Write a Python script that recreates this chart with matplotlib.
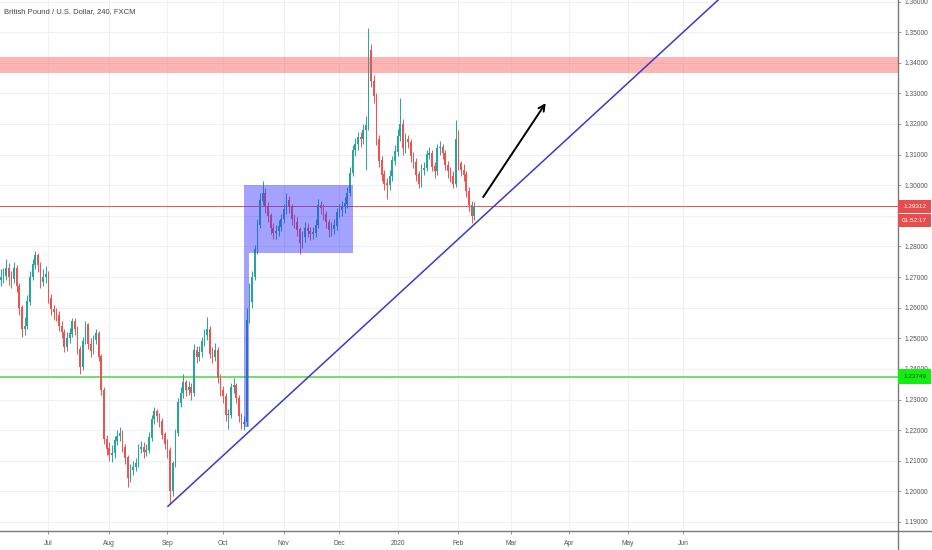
import numpy as np
import pandas as pd
import matplotlib
matplotlib.use("Agg")
import matplotlib.pyplot as plt
from matplotlib.patches import Polygon, Rectangle
from matplotlib.transforms import blended_transform_factory

plt.rcParams['font.family'] = ['Liberation Sans', 'DejaVu Sans']

# GBPUSD, one candle per trading day starting 2019-06-05
start_date = '2019-06-05'
last_month = '2020-06'
first_open = 1.2690
closes = [
    1.2700, 1.2705, 1.2730, 1.2700, 1.2695, 1.2730, 1.2670, 1.2600, 1.2530, 1.2540,
    1.2620, 1.2700, 1.2740, 1.2770, 1.2740, 1.2685, 1.2700, 1.2710, 1.2630, 1.2595,
    1.2585, 1.2575, 1.2540, 1.2520, 1.2470, 1.2500, 1.2515, 1.2555, 1.2530, 1.2465,
    1.2405, 1.2490, 1.2545, 1.2480, 1.2460, 1.2495, 1.2515, 1.2440, 1.2330, 1.2170,
    1.2140, 1.2120, 1.2125, 1.2165, 1.2180, 1.2190, 1.2145, 1.2110, 1.2045, 1.2070,
    1.2080, 1.2090, 1.2140, 1.2145, 1.2130, 1.2135, 1.2175, 1.2235, 1.2260, 1.2245,
    1.2230, 1.2185, 1.2155, 1.2135, 1.2000, 1.2090, 1.2190, 1.2290, 1.2320, 1.2355,
    1.2330, 1.2340, 1.2320, 1.2460, 1.2440, 1.2455, 1.2490, 1.2510, 1.2530, 1.2450,
    1.2440, 1.2460, 1.2370, 1.2330, 1.2310, 1.2250, 1.2250, 1.2340, 1.2345, 1.2305,
    1.2245, 1.2220, 1.2225, 1.2560, 1.2620, 1.2700, 1.2790, 1.2870, 1.2950, 1.2975,
    1.2930, 1.2900, 1.2860, 1.2845, 1.2850, 1.2865, 1.2890, 1.2920, 1.2950, 1.2930,
    1.2890, 1.2880, 1.2855, 1.2810, 1.2830, 1.2860, 1.2850, 1.2840, 1.2845, 1.2870,
    1.2935, 1.2925, 1.2905, 1.2880, 1.2855, 1.2858, 1.2868, 1.2910, 1.2918, 1.2928,
    1.2940, 1.2975, 1.3040, 1.3115, 1.3135, 1.3155, 1.3150, 1.3180, 1.3195, 1.3440,
    1.3340, 1.3290, 1.3150, 1.3080, 1.3035, 1.3005, 1.3000, 1.3030, 1.3080, 1.3110,
    1.3160, 1.3200, 1.3120, 1.3150, 1.3140, 1.3095, 1.3075, 1.3035, 1.3005, 1.3050,
    1.3055, 1.3100, 1.3105, 1.3060, 1.3045, 1.3120, 1.3125, 1.3105, 1.3065, 1.3045,
    1.3030, 1.3005, 1.3150, 1.3070, 1.3050, 1.3035, 1.2980, 1.2935, 1.2900, 1.2931,
]
highs = [
    1.2725, 1.2730, 1.2760, 1.2745, 1.2720, 1.2750, 1.2740, 1.2680, 1.2610, 1.2570,
    1.2640, 1.2720, 1.2760, 1.2785, 1.2780, 1.2750, 1.2725, 1.2735, 1.2720, 1.2645,
    1.2610, 1.2600, 1.2590, 1.2555, 1.2530, 1.2520, 1.2535, 1.2565, 1.2565, 1.2540,
    1.2475, 1.2505, 1.2555, 1.2550, 1.2500, 1.2510, 1.2530, 1.2525, 1.2450, 1.2340,
    1.2185, 1.2160, 1.2150, 1.2180, 1.2200, 1.2210, 1.2200, 1.2155, 1.2120, 1.2090,
    1.2100, 1.2110, 1.2155, 1.2165, 1.2160, 1.2155, 1.2195, 1.2250, 1.2275, 1.2270,
    1.2255, 1.2240, 1.2195, 1.2170, 1.2145, 1.2100, 1.2205, 1.2305, 1.2340, 1.2385,
    1.2365, 1.2360, 1.2355, 1.2480, 1.2475, 1.2475, 1.2505, 1.2530, 1.2570, 1.2540,
    1.2470, 1.2485, 1.2470, 1.2385, 1.2345, 1.2320, 1.2270, 1.2355, 1.2370, 1.2355,
    1.2315, 1.2255, 1.2245, 1.2600, 1.2680, 1.2720, 1.2805, 1.2890, 1.2975, 1.3013,
    1.2990, 1.2945, 1.2910, 1.2875, 1.2870, 1.2885, 1.2905, 1.2940, 1.2975, 1.2965,
    1.2940, 1.2905, 1.2895, 1.2865, 1.2850, 1.2880, 1.2875, 1.2865, 1.2865, 1.2890,
    1.2955, 1.2950, 1.2940, 1.2915, 1.2890, 1.2880, 1.2890, 1.2925, 1.2940, 1.2950,
    1.2960, 1.2995, 1.3060, 1.3130, 1.3155, 1.3175, 1.3175, 1.3200, 1.3225, 1.3515,
    1.3460, 1.3360, 1.3300, 1.3165, 1.3095, 1.3050, 1.3025, 1.3050, 1.3095, 1.3130,
    1.3185, 1.3285, 1.3215, 1.3170, 1.3165, 1.3150, 1.3110, 1.3090, 1.3045, 1.3070,
    1.3075, 1.3115, 1.3125, 1.3115, 1.3075, 1.3135, 1.3145, 1.3135, 1.3115, 1.3080,
    1.3060, 1.3045, 1.3213, 1.3180, 1.3080, 1.3070, 1.3045, 1.2995, 1.2950, 1.2945,
]
lows = [
    1.2670, 1.2680, 1.2690, 1.2675, 1.2665, 1.2680, 1.2650, 1.2575, 1.2505, 1.2510,
    1.2530, 1.2610, 1.2690, 1.2725, 1.2715, 1.2665, 1.2670, 1.2680, 1.2615, 1.2575,
    1.2560, 1.2555, 1.2525, 1.2500, 1.2455, 1.2460, 1.2485, 1.2505, 1.2510, 1.2450,
    1.2385, 1.2395, 1.2480, 1.2465, 1.2440, 1.2450, 1.2480, 1.2425, 1.2315, 1.2155,
    1.2120, 1.2100, 1.2095, 1.2110, 1.2150, 1.2165, 1.2130, 1.2090, 1.2015, 1.2030,
    1.2055, 1.2065, 1.2080, 1.2125, 1.2110, 1.2115, 1.2125, 1.2165, 1.2220, 1.2225,
    1.2210, 1.2170, 1.2140, 1.2110, 1.1960, 1.1985, 1.2080, 1.2180, 1.2275, 1.2305,
    1.2310, 1.2315, 1.2300, 1.2310, 1.2420, 1.2425, 1.2440, 1.2475, 1.2495, 1.2435,
    1.2420, 1.2425, 1.2355, 1.2310, 1.2290, 1.2230, 1.2205, 1.2240, 1.2320, 1.2290,
    1.2225, 1.2205, 1.2200, 1.2215, 1.2550, 1.2600, 1.2690, 1.2775, 1.2860, 1.2935,
    1.2910, 1.2880, 1.2840, 1.2825, 1.2825, 1.2835, 1.2850, 1.2875, 1.2905, 1.2910,
    1.2870, 1.2860, 1.2835, 1.2775, 1.2795, 1.2815, 1.2830, 1.2820, 1.2825, 1.2830,
    1.2860, 1.2905, 1.2885, 1.2860, 1.2830, 1.2835, 1.2840, 1.2855, 1.2895, 1.2900,
    1.2910, 1.2925, 1.2965, 1.3030, 1.3095, 1.3115, 1.3125, 1.3135, 1.3050, 1.3180,
    1.3320, 1.3270, 1.3130, 1.3060, 1.3015, 1.2985, 1.2955, 1.2985, 1.3015, 1.3065,
    1.3095, 1.3145, 1.3100, 1.3105, 1.3120, 1.3075, 1.3055, 1.3015, 1.2990, 1.2995,
    1.3035, 1.3045, 1.3085, 1.3045, 1.3025, 1.3035, 1.3100, 1.3085, 1.3050, 1.3025,
    1.3010, 1.2990, 1.2995, 1.3050, 1.3030, 1.3015, 1.2960, 1.2915, 1.2875, 1.2885,
]

# drawings on the chart (trading-day index, price)
resistance_zone = (1.33655, 1.34197)
last_price = 1.29312
countdown = '01:52:17'
support_level = 1.23749
trend_start = (63.2, 1.19514)
trend_end = (271.2, 1.36050)
arrow_start = (181.8, 1.29537)
arrow_end = (206.6, 1.32759)
range_box = [(92.0, 1.30004), (133.2, 1.30004), (133.2, 1.27782),
             (93.9, 1.27782), (93.9, 1.22096), (92.0, 1.22096)]

closes = np.array(closes)
opens = np.concatenate([[first_open], closes[:-1]])
highs = np.maximum(np.array(highs), np.maximum(opens, closes))
lows = np.minimum(np.array(lows), np.minimum(opens, closes))
idx = np.arange(len(closes))

UP = '#26a69a'
DOWN = '#ef5350'

W, H = 932, 550
fig = plt.figure(figsize=(W / 100, H / 100), dpi=100)
ax = fig.add_axes([0, 19 / H, 898 / W, 531 / H])
px_per_day = 2.645
ax.set_xlim(-0.3, 898 / px_per_day - 0.3)
ax.set_ylim(1.18706, 1.3605)

# candles
up = closes >= opens
colors = np.where(up, UP, DOWN)
ax.vlines(idx, lows, highs, colors=colors, linewidth=0.7, zorder=3)
ax.bar(idx, np.abs(closes - opens) + 0.00012, bottom=np.minimum(opens, closes),
       width=0.62, color=colors, linewidth=0, zorder=3)

# resistance zone
ax.axhspan(*resistance_zone, color='#ff6a6a', alpha=0.5, linewidth=0, zorder=2)

# consolidation box
ax.add_patch(Polygon(range_box, closed=True, facecolor='#3333ff', alpha=0.45,
                     edgecolor='none', zorder=4))

# levels
ax.axhline(last_price, color=DOWN, linewidth=0.7, zorder=2)
ax.axhline(support_level, color='#55dd55', linewidth=1.2, zorder=2)

# trend line
slope = (trend_end[1] - trend_start[1]) / (trend_end[0] - trend_start[0])
x_far = 320
ax.plot([trend_start[0], x_far], [trend_start[1], trend_start[1] + slope * (x_far - trend_start[0])],
        color='#3a3acb', linewidth=1.1, zorder=5)

# arrow
ax.annotate('', xy=arrow_end, xytext=arrow_start,
            arrowprops=dict(arrowstyle='->', color='black', lw=1.4, mutation_scale=11),
            zorder=6)

# x ticks at month starts, up to Jun 2020
days = pd.bdate_range(start_date, periods=360)
tick_pos, tick_lab = [], []
prev = None
for i, d in enumerate(days):
    if d.month != prev:
        if prev is not None and d.strftime('%Y-%m') <= last_month:
            tick_pos.append(i)
            tick_lab.append('2020' if (d.month == 1) else d.strftime('%b'))
        prev = d.month
ax.set_xticks(tick_pos)
ax.set_xticklabels(tick_lab)

# y ticks (the 1.29 label sits under the last-price tag)
yt = np.round(np.arange(1.19, 1.3601, 0.01), 2)
ax.yaxis.tick_right()
ax.set_yticks(yt)
ax.set_yticklabels(['' if abs(v - 1.29) < 1e-9 else '%.5f' % v for v in yt])

ax.grid(True, color='#edf0f4', linewidth=0.8, zorder=0)
ax.set_axisbelow(True)
for s in ('top', 'left'):
    ax.spines[s].set_visible(False)
for s in ('right', 'bottom'):
    ax.spines[s].set_color('#7a7a7a')
    ax.spines[s].set_linewidth(1.0)
ax.tick_params(axis='both', labelsize=4.8, colors='#555555', length=2.5, width=0.6, pad=2.5)
ax.tick_params(axis='both', color='#888888')
ax.tick_params(axis='x', pad=4)

# extend axis lines to the figure edges
fig.add_artist(plt.Line2D([898 / W, 1], [19 / H, 19 / H], color='#7a7a7a', lw=1.0))
fig.add_artist(plt.Line2D([898 / W, 898 / W], [0, 19 / H], color='#7a7a7a', lw=1.0))

# price labels on the axis
tr = blended_transform_factory(ax.transAxes, ax.transData)
bw = 33 / 898
ph = 1 / 3060


def axis_label(price, text, face, fg, hpx=14):
    h = hpx * ph
    ax.add_patch(Rectangle((1.0, price - h / 2), bw, h, transform=tr, facecolor=face,
                           edgecolor='none', clip_on=False, zorder=10))
    ax.text(1.0 + bw / 2, price, text, transform=tr, ha='center', va='center',
            fontsize=4.6, color=fg, zorder=11, clip_on=False)


axis_label(last_price, '%.5f' % last_price, '#e84c4c', 'white', hpx=13)
axis_label(last_price - 14.5 * ph, countdown, '#e84c4c', 'white', hpx=13)
axis_label(support_level, '%.5f' % support_level, '#11ee11', '#1a4d1a', hpx=15)

fig.text(4 / W, 1 - 12 / H, 'British Pound / U.S. Dollar, 240, FXCM', fontsize=5.5,
         color='#444444', va='center', ha='left')

fig.savefig('out.png', dpi=100)
